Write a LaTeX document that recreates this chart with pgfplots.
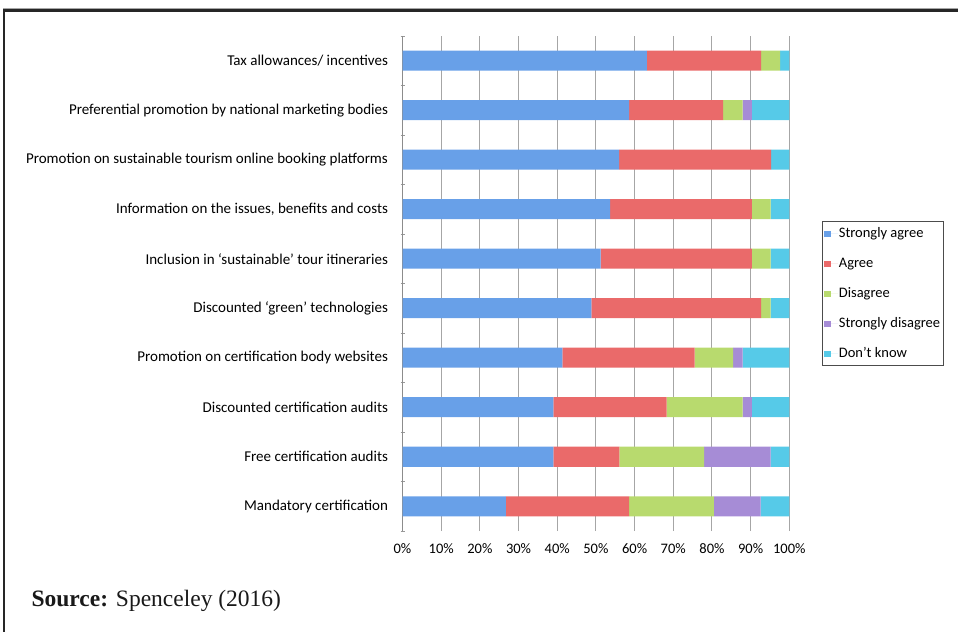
\documentclass[border=0pt]{standalone}
\usepackage{fontspec}
\setmainfont{Carlito}
\newfontfamily\timesfont{Liberation Serif}
\usepackage{pgfplots}
\pgfplotsset{compat=1.18}
\definecolor{cSA}{RGB}{104,160,232}
\definecolor{cA}{RGB}{234,106,106}
\definecolor{cD}{RGB}{184,218,110}
\definecolor{cSD}{RGB}{166,140,214}
\definecolor{cDK}{RGB}{86,202,232}
\begin{document}
\begin{tikzpicture}[x=1pt,y=1pt]
\path[use as bounding box] (0,0) rectangle (958,632);
\fill[black!85] (2.7,0) rectangle (5.3,622.7);
\fill[black!85] (2.7,619.7) rectangle (958,622.7);
\fill[black!35] (2.7,622.7) rectangle (958,623.7);
\begin{axis}[
  at={(402.5pt,101pt)}, anchor=south west,
  scale only axis, width=386.8pt, height=495pt,
  xbar stacked, bar width=20pt,
  xmin=0, xmax=100, ymin=-0.5, ymax=9.5,
  xtick={0,10,...,100},
  xticklabels={0\%,10\%,20\%,30\%,40\%,50\%,60\%,70\%,80\%,90\%,100\%},
  ytick={0,...,9},
  yticklabels={{Mandatory certification},{Free certification audits},{Discounted certification audits},{Promotion on certification body websites},{Discounted ‘green’ technologies},{Inclusion in ‘sustainable’ tour itineraries},{Information on the issues, benefits and costs},{Promotion on sustainable tourism online booking platforms},{Preferential promotion by national marketing bodies},{Tax allowances/ incentives}},
  minor ytick={-0.5,0.5,...,9.5},
  major tick length=0pt, minor tick length=4pt, tick align=outside,
  minor tick style={black!40, line width=0.8pt},
  xtick style={draw=none},
  axis x line=bottom, axis y line=left,
  axis line style={-},
  x axis line style={draw=none},
  y axis line style={black!45, line width=1pt},
  xmajorgrids,
  major grid style={black!35, line width=0.9pt},
  yticklabel style={font=\fontsize{15}{17}\selectfont, text=black, xshift=-11pt},
  xticklabel style={font=\fontsize{14.5}{16}\selectfont, text=black, yshift=-9pt},
  legend style={at={(1.0845,0.479)}, anchor=west, draw=black!70, line width=0.8pt,
    font=\fontsize{14.5}{16}\selectfont, text=black,
    nodes={text height=10pt, text depth=3pt, inner sep=1pt},
    row sep=15pt, inner xsep=2pt, inner ysep=4.5pt},
  legend cell align=left,
  legend image code/.code={\fill[#1] (0pt,-3.5pt) rectangle (6.5pt,3pt); \path (0pt,0pt) -- (13.5pt,0pt);},
]
\addplot[draw=none, fill=cSA] coordinates {(26.7,0) (39.0,1) (39.0,2) (41.3,3) (48.8,4) (51.2,5) (53.7,6) (56.0,7) (58.6,8) (63.2,9)};
\addplot[draw=none, fill=cA] coordinates {(31.9,0) (17.1,1) (29.3,2) (34.2,3) (43.9,4) (39.1,5) (36.6,6) (39.3,7) (24.3,8) (29.5,9)};
\addplot[draw=none, fill=cD] coordinates {(21.9,0) (21.9,1) (19.6,2) (10.0,3) (2.5,4) (4.9,5) (4.9,6) (0,7) (5.0,8) (4.9,9)};
\addplot[draw=none, fill=cSD] coordinates {(12.1,0) (17.2,1) (2.4,2) (2.4,3) (0,4) (0,5) (0,6) (0,7) (2.4,8) (0,9)};
\addplot[draw=none, fill=cDK] coordinates {(7.4,0) (4.8,1) (9.7,2) (12.1,3) (4.8,4) (4.8,5) (4.8,6) (4.7,7) (9.7,8) (2.4,9)};
\legend{Strongly agree, Agree, Disagree, Strongly disagree, Don’t know}
\end{axis}
\node[anchor=base west, font=\timesfont\fontsize{23.5}{26}\selectfont, text=black!90] at (28,26) {\textbf{Source:} Spenceley (2016)};
\end{tikzpicture}
\end{document}
